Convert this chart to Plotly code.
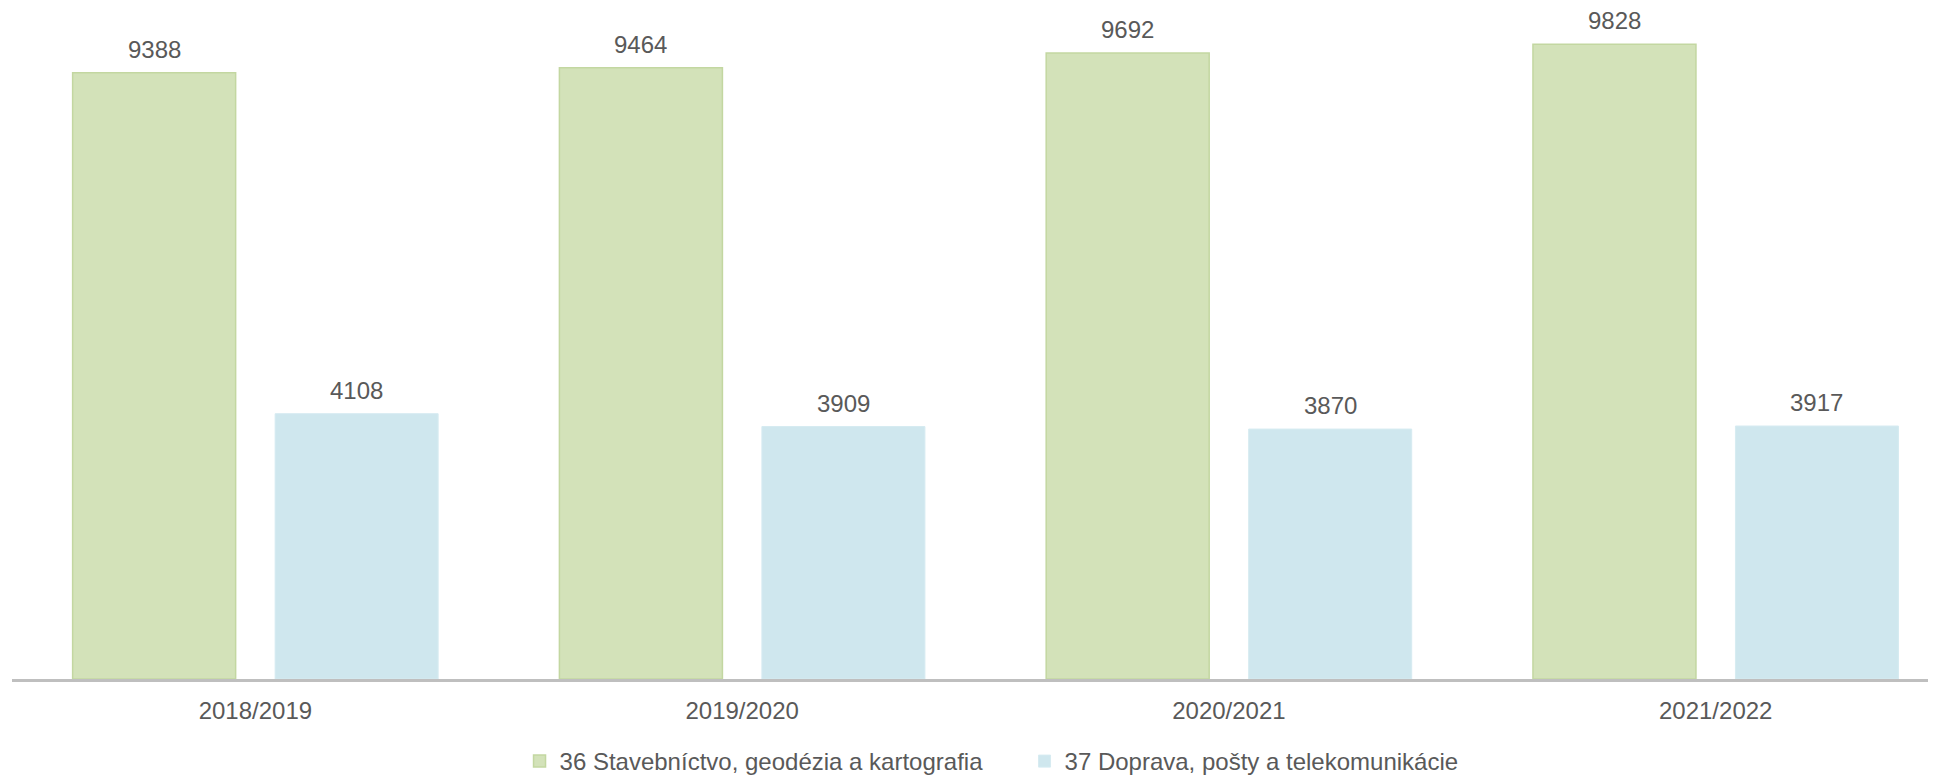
import plotly.graph_objects as go

categories = ["2018/2019", "2019/2020", "2020/2021", "2021/2022"]
series_names = ["36 Stavebníctvo, geodézia a kartografia", "37 Doprava, pošty a telekomunikácie"]
values_36 = [9388, 9464, 9692, 9828]
values_37 = [4108, 3909, 3870, 3917]

FONT = "Liberation Sans, Arial, sans-serif"
TEXT_COLOR = "#595959"
FS = 24

# layout geometry
L, R, T, B = 4, 0, 12, 104
W, H = 1936, 776
BARGAP = 0.168
X_RANGE = [-0.5, 3.469]
unit_px = (W - L - R) / (X_RANGE[1] - X_RANGE[0])
slot_px = (1 - BARGAP) * unit_px / 2  # width of one trace slot within a group

fig = go.Figure()
fig.add_trace(go.Bar(
    x=categories, y=values_36, name=series_names[0],
    marker=dict(color="#d3e2b9", line=dict(color="#c3d7a1", width=1.5)),
))
fig.add_trace(go.Bar(
    x=categories, y=values_37, name=series_names[1],
    marker=dict(color="#cfe7ee", line=dict(color="#d6ebf1", width=1)),
))

# value labels above bars
annotations = []
for vals, side in ((values_36, -1), (values_37, 1)):
    for c, v in zip(categories, vals):
        annotations.append(dict(
            x=c, y=v, xref="x", yref="y", text=str(v), showarrow=False,
            xanchor="center", yanchor="bottom",
            xshift=side * slot_px / 2, yshift=8,
            font=dict(size=FS, color=TEXT_COLOR, family=FONT),
        ))

fig.update_layout(
    width=W, height=H,
    margin=dict(l=L, r=R, t=T, b=B),
    paper_bgcolor="white", plot_bgcolor="white",
    barmode="group", bargap=BARGAP, bargroupgap=0.195,
    font=dict(family=FONT, color=TEXT_COLOR),
    showlegend=True,
    legend=dict(
        orientation="h", x=0.2627, xanchor="left", y=-0.091, yanchor="top",
        font=dict(size=FS, color=TEXT_COLOR, family=FONT),
        entrywidth=460, entrywidthmode="pixels",
    ),
    annotations=annotations,
)
fig.update_xaxes(
    type="category", range=X_RANGE,
    showline=True, linecolor="#bfbfbf", linewidth=3,
    ticks="", showgrid=False, zeroline=False,
    ticklabelstandoff=8,
    tickfont=dict(size=FS, color=TEXT_COLOR, family=FONT),
)
fig.update_yaxes(
    range=[0, 660 / 0.06468],
    visible=False, showgrid=False, zeroline=False,
)

fig.write_html("out.html")
